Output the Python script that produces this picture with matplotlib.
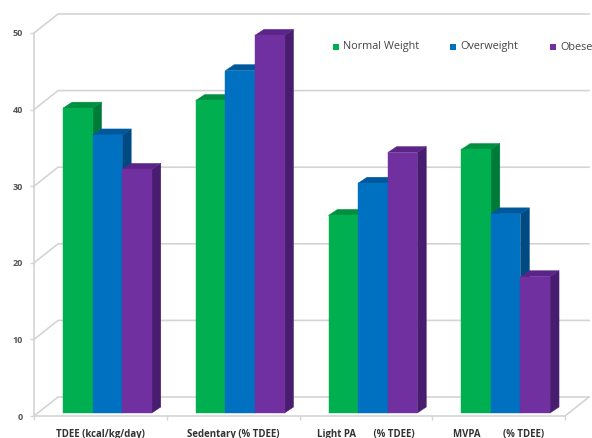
import matplotlib
matplotlib.use("Agg")
import matplotlib.pyplot as plt
from matplotlib.patches import Polygon

plt.rcParams['font.family'] = ['Open Sans', 'DejaVu Sans']

categories = ["TDEE (kcal/kg/day)", "Sedentary (% TDEE)", "Light PA       (% TDEE)", "MVPA         (% TDEE)"]
series_names = ["Normal Weight", "Overweight", "Obese"]
normal_weight = [39.8, 40.8, 25.8, 34.4]
overweight = [36.3, 44.7, 30.0, 26.0]
obese = [31.8, 49.3, 34.0, 17.8]
y_ticks = [0, 10, 20, 30, 40, 50]

face_colors = ["#00b050", "#0070c0", "#7030a0"]
top_colors = ["#008f40", "#00589c", "#5a2488"]
side_colors = ["#007a38", "#004a84", "#481c6e"]
grid_color = "#d4d4d4"

W, H = 592, 438
fig = plt.figure(figsize=(W / 100, H / 100), dpi=100, facecolor="white")
ax = fig.add_axes([34 / W, 1 - 416 / H, 531 / W, 383 / H])
ax.set_xlim(0, 4)
ax.set_ylim(0, 50)

# Depth of the chart box and of each bar, in data units
wall_dx, wall_dy = 24 / 132.75, 19 / 7.66
bar_dx, bar_dy = 9 / 132.75, 6 / 7.66
base_lift = 3 / 7.66
bar_w = 29.6 / 132.75
group_pad = 29 / 132.75


def poly(points, color, z, **kw):
    ax.add_patch(Polygon(points, closed=True, facecolor=color, edgecolor=color,
                         linewidth=0.3, zorder=z, clip_on=False, **kw))


# Walls and floor of the box
for v in y_ticks:
    ax.plot([0, wall_dx, 4 + wall_dx], [v, v + wall_dy, v + wall_dy],
            color=grid_color, lw=1.2, zorder=1, clip_on=False)
ax.plot([4, 4 + wall_dx], [0, wall_dy], color=grid_color, lw=1.2, zorder=1, clip_on=False)

# Bars, back to front within each group
for g in range(len(categories)):
    x0 = g + group_pad
    for s, vals in enumerate([normal_weight, overweight, obese]):
        left = x0 + s * bar_w
        right = left + bar_w
        y0 = base_lift
        top = y0 + vals[g]
        z = 3 + g * 10 + s
        poly([(right, y0), (right + bar_dx, y0 + bar_dy),
              (right + bar_dx, top + bar_dy), (right, top)], side_colors[s], z)
        poly([(left, top), (left + bar_dx, top + bar_dy),
              (right + bar_dx, top + bar_dy), (right, top)], top_colors[s], z)
        poly([(left, y0), (right, y0), (right, top), (left, top)], face_colors[s], z + 0.5)

for side in ("top", "right"):
    ax.spines[side].set_visible(False)
for side in ("left", "bottom"):
    ax.spines[side].set_color(grid_color)
    ax.spines[side].set_linewidth(1.2)

ax.set_yticks(y_ticks)
ax.set_yticklabels([str(v) for v in y_ticks], fontsize=6.5, color="#555555", fontweight="bold")
ax.tick_params(axis="y", length=3, color=grid_color, pad=5, width=1)
ax.set_xticks([0, 1, 2, 3, 4])
ax.set_xticklabels([])
ax.tick_params(axis="x", length=3, color=grid_color, width=1)
ax.set_xticks([0.5, 1.5, 2.5, 3.5], minor=True)
ax.set_xticklabels(categories, minor=True, fontsize=6.9, color="#333333", fontweight="bold")
ax.tick_params(axis="x", which="minor", length=0, pad=9)
ax.patch.set_alpha(0)

# Key across the upper part of the plot
legend_x = [336, 453, 553]
text_x = [343, 460, 560]
for name, mx, tx, c in zip(series_names, legend_x, text_x, face_colors):
    fig.patches.append(plt.Rectangle((mx - 3, H - 50), 6, 6, transform=None,
                                     facecolor=c, edgecolor="none", figure=fig))
    fig.text(tx / W, 1 - 47 / H, name, fontsize=7.8, color="#444444", va="center", ha="left")

fig.savefig("out.png", dpi=100)
